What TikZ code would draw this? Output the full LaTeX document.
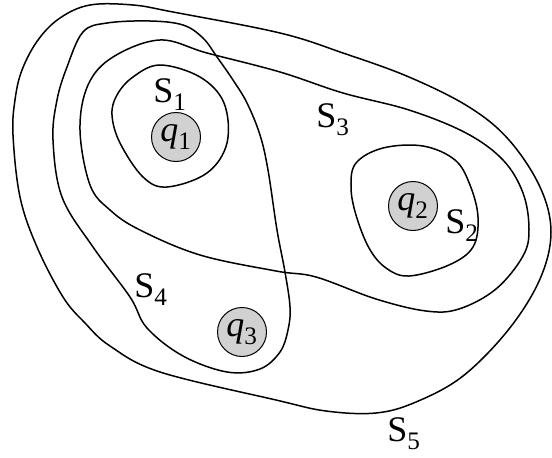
\documentclass[tikz,border=0pt]{standalone}
\usepackage{fontspec}
\setmainfont{Liberation Serif}
\usepackage{tikz}
\usetikzlibrary{calc,positioning}
\tikzset{
charge/.style={circle, draw, line width=1pt, fill=black!18, text=black, minimum size=49pt, inner sep=0pt},
set_line/.style={draw, line width=1.5pt, smooth cycle, tension=0.6},
set_label/.style={rectangle, inner sep=0pt, text=black}
}
\newcommand{\chargename}[1]{\textit{q}\textsubscript{#1}}

\begin{document}
\begin{tikzpicture}[x=1pt, y=-1pt, font=\fontsize{36}{40}\selectfont]
    \useasboundingbox (0,0) rectangle (552,458);
    % S5
    \draw[set_line] plot coordinates {(90,5) (133,5) (173,12) (280,33) (343,53) (409,77) (469,107) (509,140) (540,187) (551,232) (540,279) (509,329) (463,376) (416,402) (376,413) (326,411) (276,400) (160,372) (110,346) (85,323) (63,297) (37,247) (20,197) (13,135) (15,100) (22,70) (38,40) (60,18)};
    % S4
    \draw[set_line] plot coordinates {(83,32) (107,23) (150,21) (183,25) (203,38) (217,57) (233,80) (247,103) (260,135) (268,170) (277,230) (285,272) (290,307) (288,330) (280,352) (260,369) (227,372) (183,356) (147,328) (130,297) (93,247) (62,197) (53,140) (57,100) (67,67)};
    % S3
    \draw[set_line] plot coordinates {(160,40) (207,53) (280,72) (343,93) (409,110) (466,133) (503,160) (523,193) (529,229) (523,256) (496,289) (459,309) (426,311) (376,299) (316,277) (276,271) (200,255) (140,230) (110,210) (90,185) (80,130) (88,85) (113,57)};
    % S1
    \draw[set_line] plot coordinates {(160,65) (200,77) (224,103) (227,143) (207,173) (167,187) (143,177) (120,143) (112,115) (117,95) (133,77)};
    % S2
    \draw[set_line] plot coordinates {(423,146) (455,160) (470,185) (478,217) (473,247) (449,265) (409,276) (386,268) (369,248) (356,215) (351,187) (356,163) (383,148)};

    \node[charge] (q_1) at (176,137) {\chargename{1}};
    \node[charge] (q_2) at (413,206) {\chargename{2}};
    \node[charge] (q_3) at (242,332) {\chargename{3}};

    \node[set_label] (s_1) at (170,95) {S\textsubscript{1}};
    \node[set_label] (s_2) at (462,226) {S\textsubscript{2}};
    \node[set_label] (s_3) at (333,120) {S\textsubscript{3}};
    \node[set_label] (s_4) at (151,290) {S\textsubscript{4}};
    \node[set_label] (s_5) at (404,434) {S\textsubscript{5}};
\end{tikzpicture}
\end{document}
